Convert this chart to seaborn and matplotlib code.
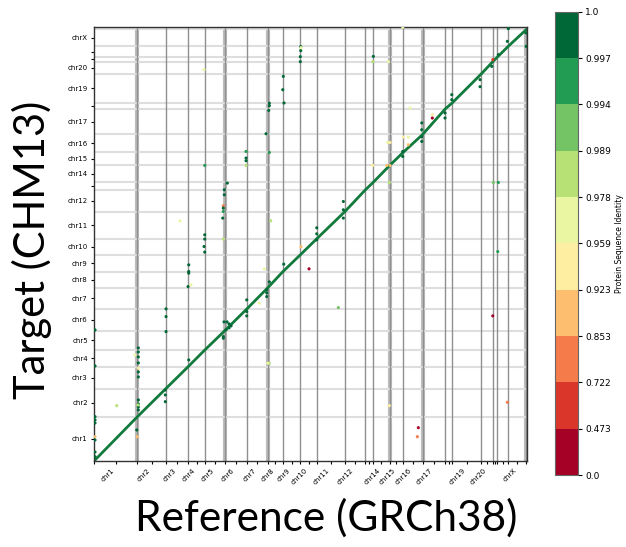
import numpy as np
import pandas as pd
import matplotlib
matplotlib.use("Agg")
import matplotlib.pyplot as plt
import matplotlib.colors as mcolors
import seaborn as sns

sns.set_style("ticks")
plt.rcParams['font.family'] = ['DejaVu Sans']
plt.rcParams['text.color'] = 'black'
plt.rcParams['xtick.color'] = 'black'
plt.rcParams['ytick.color'] = 'black'
plt.rcParams['axes.labelcolor'] = 'black'

# chromosome order and protein-coding gene counts
chroms = ['chr1', 'chr2', 'chr3', 'chr4', 'chr5', 'chr6', 'chr7', 'chr8', 'chr9', 'chr10',
          'chr11', 'chr12', 'chr13', 'chr14', 'chr15', 'chr16', 'chr17', 'chr18', 'chr19',
          'chr20', 'chr21', 'chr22', 'chrX']
ref_genes = [2040, 1335, 1050, 785, 940, 1035, 990, 705, 815, 785, 1300, 975, 360, 780,
             630, 920, 1070, 315, 1380, 530, 220, 505, 860]
tgt_genes = [2082, 1316, 1034, 785, 907, 1020, 1001, 752, 785, 766, 1255, 1034, 343, 799,
             611, 846, 1208, 268, 1377, 564, 221, 498, 799]
unlabelled = ['chr13', 'chr18', 'chr21', 'chr22']

# off-diagonal protein hits: reference index, target index, identity
dot_ref = [9715, 9715, 9696, 9696, 9729, 5170, 8897, 8869, 8930, 8239, 8239, 8211, 8084,
           8239, 7144, 7144, 7144, 7144, 5203, 6265, 6124, 6124, 6077, 6077, 6077, 6049,
           4042, 8305, 5203, 5203, 5170, 5203, 6077, 4451, 4451, 4451, 4418, 4559, 8004,
           8916, 10105, 9729, 8239, 8117, 8117, 8117, 7769, 7177, 7177, 7177,
           6251, 6345, 6439, 6345, 6204, 6110, 6077, 6077, 3384, 3384, 3384, 3351, 3351,
           3351, 4451, 2082, 2082, 2082, 2082, 2082, 2082, 2082, 2082, 2082, 2082, 2082,
           2035, 2007, 2068, 1927, 1067, 47, 47, 47, 47, 47, 47, 47, 47, 47, 8239, 8164,
           14509, 13127, 13099, 13832, 14852, 15900, 15900, 16497, 16497, 16812, 16812,
           18142, 18142, 18739, 18692, 19002, 19425, 19472, 20304, 20304, 15402, 15402,
           15402, 15402, 13804, 13912, 14537, 14772, 14772, 14509, 14509, 13099, 13757,
           13912, 13879, 18767, 19002, 11717, 11717, 11717, 10467, 10467, 10467, 11482,
           18974, 18739, 13879, 15242, 15195, 19425]
dot_tgt = [19458, 19270, 18988, 18753, 19411, 18377, 18062, 17437, 16812, 16803, 16685,
           16464, 15369, 14490, 14537, 14227, 14100, 13879, 13879, 13052, 12737, 12502,
           11985, 11877, 11717, 11407, 11280, 11280, 10622, 10420, 10072, 9809, 10420,
           9212, 8897, 8822, 8192, 8272, 9024, 9245, 9024, 10072, 8413, 8037, 7896, 7722,
           7412, 7567, 7017, 6815, 6533, 6439, 6345, 6251, 6157, 6533, 5842, 5767, 7144,
           6782, 6077, 3337, 3102, 2787, 4747, 5311, 5123, 4888, 4606, 4357, 4183, 3948,
           2867, 2679, 2538, 2397, 1142, 1457, 2632, 4982, 2599, 6157, 4465, 2082, 1927,
           1786, 1142, 987, 423, 202, 4592, 4592, 20365, 19002, 18753, 18753, 16577, 16262,
           16107, 16342, 16107, 17202, 16967, 17907, 17578, 18847, 18532, 19082, 19707,
           20304, 20102, 19472, 15876, 15557, 15228, 15007, 14960, 14960, 15214, 15214,
           14852, 14537, 14302, 13879, 13879, 13879, 13080, 13080, 13080, 12187, 11797,
           11407, 10951, 10669, 10387, 7205, 9837, 6815, 2599, 1565, 1142, 2759]
dot_ident = [0.999, 0.999, 0.998, 0.998, 0.975, 0.965, 0.998, 0.999, 0.998, 0.999, 0.999,
             0.998, 0.998, 0.995, 0.996, 0.998, 0.998, 0.985, 0.995, 0.999, 0.998, 0.998,
             0.80, 0.998, 0.996, 0.998, 0.965, 0.982, 0.998, 0.998, 0.998, 0.998, 0.98,
             0.998, 0.998, 0.998, 0.998, 0.965, 0.965, 0.998, 0.30, 0.87, 0.998, 0.998,
             0.998, 0.998, 0.965, 0.998, 0.998, 0.998, 0.999, 0.999, 0.999, 0.999, 0.999,
             0.999, 0.998, 0.998, 0.998, 0.998, 0.998, 0.998, 0.998, 0.998, 0.998, 0.998,
             0.998, 0.998, 0.998, 0.95, 0.998, 0.998, 0.998, 0.998, 0.998, 0.998, 0.87,
             0.998, 0.98, 0.965, 0.982, 0.998, 0.998, 0.998, 0.998, 0.998, 0.87, 0.998,
             0.998, 0.998, 0.98, 0.975, 0.965, 0.998, 0.985, 0.965, 0.965, 0.95, 0.40,
             0.998, 0.998, 0.998, 0.998, 0.998, 0.998, 0.50, 0.998, 0.998, 0.998, 0.998,
             0.998, 0.998, 0.998, 0.998, 0.998, 0.998, 0.965, 0.94, 0.94, 0.965, 0.87,
             0.998, 0.998, 0.94, 0.87, 0.87, 0.982, 0.992, 0.996, 0.998, 0.998, 0.998,
             0.998, 0.998, 0.998, 0.99, 0.995, 0.40, 0.93, 0.40, 0.80, 0.75]

cbar_bounds = [0.0, 0.473, 0.722, 0.853, 0.923, 0.959, 0.978, 0.989, 0.994, 0.997, 1.0]
cbar_labels = ['0.0', '0.473', '0.722', '0.853', '0.923', '0.959', '0.978', '0.989',
               '0.994', '0.997', '1.0']

ref_edges = np.concatenate([[0], np.cumsum(ref_genes)])
tgt_edges = np.concatenate([[0], np.cumsum(tgt_genes)])
ref_mids = (ref_edges[:-1] + ref_edges[1:]) / 2
tgt_mids = (tgt_edges[:-1] + tgt_edges[1:]) / 2
tick_text = ['' if c in unlabelled else c for c in chroms]

cmap = plt.get_cmap('RdYlGn', 10)
norm = mcolors.BoundaryNorm(cbar_bounds, cmap.N)

fig = plt.figure(figsize=(6.26, 5.47), dpi=100)
ax = fig.add_axes([0.1502, 0.1572, 0.6917, 0.7934])

# chromosome boundaries
thick = [1, 5, 7, 14, 16, 23]
for i, e in enumerate(ref_edges[1:], start=1):
    if i in thick:
        ax.axvline(e, color='#bdbdbd', lw=3, zorder=0)
    ax.axvline(e, color='#8f8f8f', lw=1, zorder=0.5)
for e in tgt_edges[1:]:
    ax.axhline(e, color='#dedede', lw=1.5, zorder=0)

# main collinear diagonal
sns.lineplot(x=ref_edges, y=tgt_edges, sort=False, estimator=None, ax=ax,
             color='#127a3d', lw=2.0, zorder=2)

df = pd.DataFrame({'ref': dot_ref, 'tgt': dot_tgt, 'ident': dot_ident})
sns.scatterplot(data=df, x='ref', y='tgt', hue='ident', palette=cmap, hue_norm=norm,
                s=5, linewidth=0, legend=False, ax=ax, zorder=3)

ax.set_xlim(0, 20350)
ax.set_ylim(0, 20380)
ax.set_xticks(ref_mids)
ax.set_xticklabels(tick_text, rotation=45, ha='right', fontsize=5)
ax.set_xticks(ref_edges, minor=True)
ax.set_yticks(tgt_mids)
ax.set_yticklabels(tick_text, fontsize=5)
ax.tick_params(axis='both', which='both', length=2.5, width=0.8, pad=2)
ax.set_xlabel(None)
ax.set_ylabel(None)
for sp in ax.spines.values():
    sp.set_color('#333333')
    sp.set_linewidth(1)

fig.text(32 / 626, 1 - 250 / 547, 'Target (CHM13)', rotation=90, ha='center',
         va='center', fontsize=30, family='Lato', color='black')
fig.text(326 / 626, 1 - 518 / 547, 'Reference (GRCh38)', ha='center', va='center',
         fontsize=30.5, family='Lato', color='black')

cax = fig.add_axes([0.8866, 0.1316, 0.0367, 0.847])
sm = plt.cm.ScalarMappable(norm=norm, cmap=cmap)
cbar = fig.colorbar(sm, cax=cax, ticks=cbar_bounds)
cbar.ax.set_yticklabels(cbar_labels, fontsize=6.5)
cbar.ax.tick_params(length=3, width=0.8, pad=2)
cbar.outline.set_edgecolor('#666666')
cbar.set_label('Protein Sequence Identity', fontsize=5.5, labelpad=3)

fig.savefig('out.png', dpi=100)
